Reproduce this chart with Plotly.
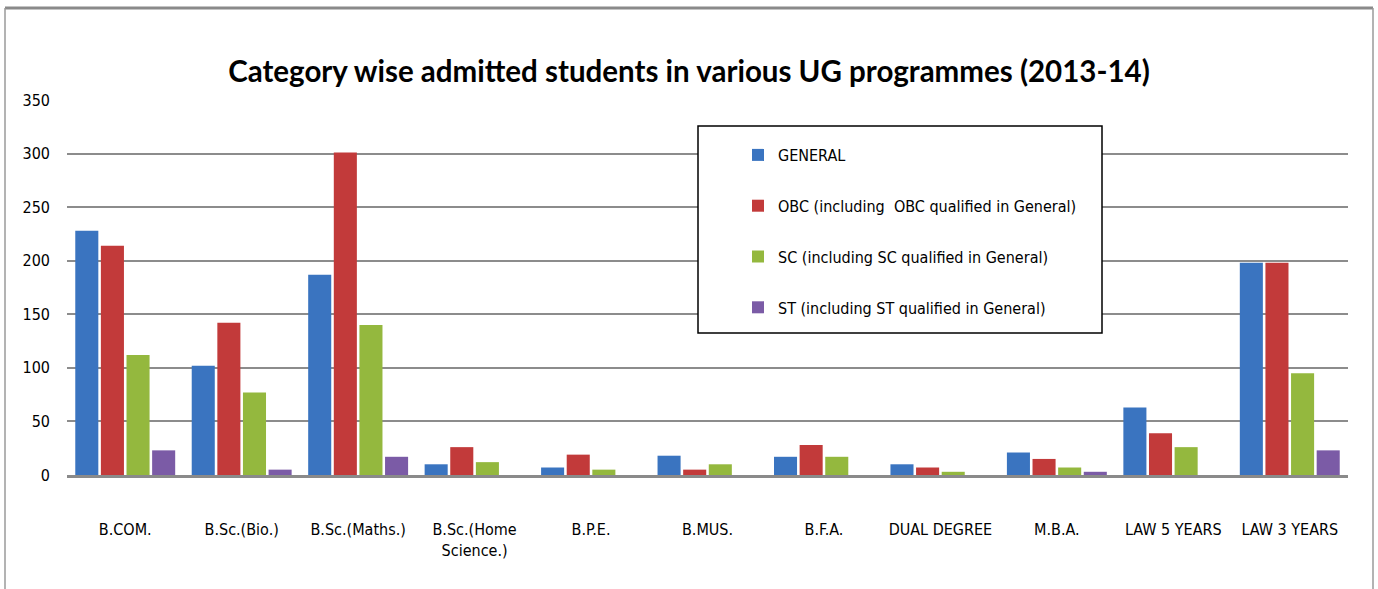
import plotly.graph_objects as go

categories = ["B.COM.", "B.Sc.(Bio.)", "B.Sc.(Maths.)", "B.Sc.(Home<br>Science.)", "B.P.E.", "B.MUS.",
              "B.F.A.", "DUAL DEGREE", "M.B.A.", "LAW 5 YEARS", "LAW 3 YEARS"]
general = [228, 102, 187, 10, 7, 18, 17, 10, 21, 63, 198]
obc = [214, 142, 301, 26, 19, 5, 28, 7, 15, 39, 198]
sc = [112, 77, 140, 12, 5, 10, 17, 3, 7, 26, 95]
st = [23, 5, 17, 0, 0, 0, 0, 0, 3, 0, 23]
series_names = ["GENERAL", "OBC (including  OBC qualified in General)",
                "SC (including SC qualified in General)", "ST (including ST qualified in General)"]
y_ticks = [0, 50, 100, 150, 200, 250, 300, 350]

colors = ["#3a74c0", "#c23a3a", "#94b83e", "#7b5ba6"]

FONT = "DejaVu Sans Condensed, DejaVu Sans, sans-serif"
TITLE_FONT = "Lato, Roboto, sans-serif"

fig = go.Figure()
for i, (name, vals) in enumerate(zip(series_names, [general, obc, sc, st])):
    fig.add_trace(go.Bar(
        x=categories, y=vals, name=name, legendgroup=f"g{i}",
        marker=dict(color=colors[i], line=dict(width=0)),
    ))

W, H = 1378, 589
L, R, T, B = 67, 30, 100, 114
pw, ph = W - L - R, H - T - B

def px_x(p):
    return (p - L) / pw

def px_y(p):
    return (H - B - p) / ph

shapes = [
    dict(type="line", xref="paper", yref="paper", x0=px_x(5), x1=px_x(1373), y0=px_y(8), y1=px_y(8),
         line=dict(color="#8a8a8a", width=3)),
    dict(type="line", xref="paper", yref="paper", x0=px_x(5), x1=px_x(5), y0=px_y(8), y1=px_y(600),
         line=dict(color="#9a9a9a", width=1.5)),
    dict(type="line", xref="paper", yref="paper", x0=px_x(1373), x1=px_x(1373), y0=px_y(8), y1=px_y(600),
         line=dict(color="#9a9a9a", width=1.5)),
    dict(type="rect", xref="paper", yref="paper", x0=px_x(698), x1=px_x(1102), y0=px_y(126), y1=px_y(333),
         line=dict(color="black", width=1.5), fillcolor="white", layer="above"),
]

fig.update_layout(
    width=W, height=H,
    margin=dict(l=L, r=R, t=T, b=B),
    paper_bgcolor="white", plot_bgcolor="white",
    font=dict(family=FONT, size=16, color="black"),
    title=dict(text="<b>Category wise admitted students in various UG programmes (2013-14)</b>",
               x=0.5, xanchor="center", y=1 - 72 / H, yanchor="middle",
               font=dict(family=TITLE_FONT, size=29.5, color="black")),
    barmode="group", bargap=0.12, bargroupgap=0.1,
    showlegend=True,
    legend=dict(x=px_x(738), y=px_y(138), xanchor="left", yanchor="top",
                bgcolor="rgba(0,0,0,0)", borderwidth=0, tracegroupgap=27,
                font=dict(family=FONT, size=16, color="black")),
    shapes=shapes,
    xaxis=dict(showgrid=False, showline=True, linecolor="#8a8a8a", linewidth=3,
               ticks="", tickfont=dict(size=16), ticklabelstandoff=38),
    yaxis=dict(range=[0, 350], tickvals=y_ticks, showgrid=True, gridcolor="#8c8c8c", gridwidth=2,
               zeroline=False, showline=False, ticks="", tickfont=dict(size=16), ticklabelstandoff=16),
)

fig.write_html("out.html", config={"displayModeBar": False},
               post_script="document.body.style.margin='0';")
